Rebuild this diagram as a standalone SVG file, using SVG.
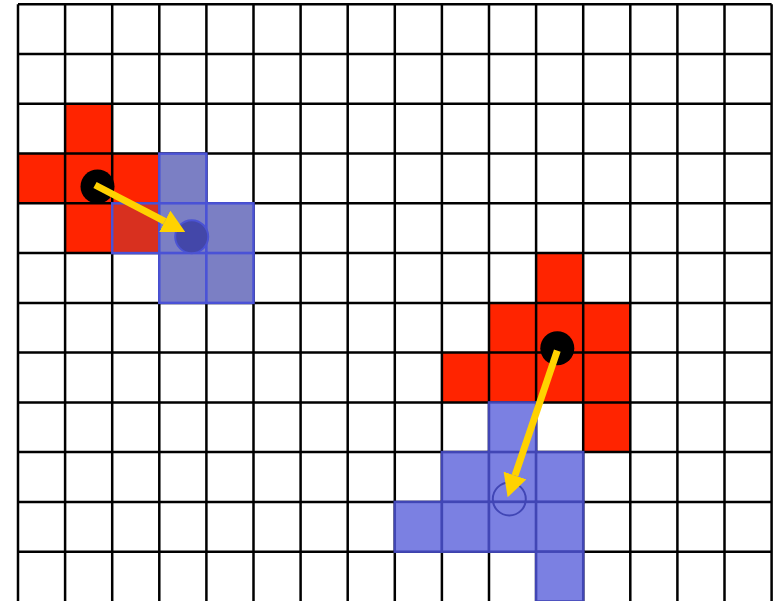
<svg xmlns="http://www.w3.org/2000/svg" width="781" height="601" viewBox="0 0 781 601">
<style>
.red{fill:#ff2400;}
.grid{fill:none;stroke:#000;stroke-width:2.5;}
.blueA{fill:#7b7fc4;stroke:#4a52d6;stroke-width:2.5;}
.blueB{fill:#7b80e2;stroke:#4146b5;stroke-width:2.5;}
.arrow{stroke:#ffd200;stroke-width:7;fill:none;marker-end:url(#head);}
</style>
<defs>
<marker id="head" markerUnits="userSpaceOnUse" viewBox="0 0 23 24" refX="0" refY="12" markerWidth="23" markerHeight="24" orient="auto">
<path d="M0,0 L23,12 L0,24 z" fill="#ffd200"/>
</marker>
</defs>
<rect x="0" y="0" width="781" height="601" fill="#fff"/>
<g id="red-shape-1">
<rect class="red" x="65.1" y="103.8" width="47.1" height="49.8"/>
<rect class="red" x="18" y="153.6" width="141.3" height="49.7"/>
<rect class="red" x="65.1" y="203.3" width="47.1" height="49.8"/>
</g>
<g id="red-shape-2">
<rect class="red" x="536.1" y="253.1" width="47.1" height="49.8"/>
<rect class="red" x="489" y="302.9" width="141.3" height="49.7"/>
<rect class="red" x="441.9" y="352.6" width="188.4" height="49.8"/>
<rect class="red" x="583.2" y="402.4" width="47.1" height="49.7"/>
</g>
<g id="grid">
<path class="grid" d="M18,4.3V601 M65.1,4.3V601 M112.2,4.3V601 M159.3,4.3V601 M206.4,4.3V601 M253.5,4.3V601 M300.6,4.3V601 M347.7,4.3V601 M394.8,4.3V601 M441.9,4.3V601 M489,4.3V601 M536.1,4.3V601 M583.2,4.3V601 M630.3,4.3V601 M677.4,4.3V601 M724.5,4.3V601 M771.6,4.3V601"/>
<path class="grid" d="M18,4.3H771.6 M18,54.1H771.6 M18,103.8H771.6 M18,153.6H771.6 M18,203.3H771.6 M18,253.1H771.6 M18,302.9H771.6 M18,352.6H771.6 M18,402.4H771.6 M18,452.1H771.6 M18,501.9H771.6 M18,551.7H771.6"/>
</g>
<g id="blue-shape-1">
<rect x="112.2" y="203.3" width="47.1" height="49.8" fill="#d8301f" stroke="#4a52d6" stroke-width="2.5"/>
<rect class="blueA" x="159.3" y="153.6" width="47.1" height="49.7"/>
<rect class="blueA" x="159.3" y="203.3" width="47.1" height="49.8"/>
<rect class="blueA" x="206.4" y="203.3" width="47.1" height="49.8"/>
<rect class="blueA" x="159.3" y="253.1" width="47.1" height="49.8"/>
<rect class="blueA" x="206.4" y="253.1" width="47.1" height="49.8"/>
</g>
<g id="blue-shape-2">
<rect class="blueB" x="489" y="402.4" width="47.1" height="49.7"/>
<rect class="blueB" x="441.9" y="452.1" width="47.1" height="49.8"/>
<rect class="blueB" x="489" y="452.1" width="47.1" height="49.8"/>
<rect class="blueB" x="536.1" y="452.1" width="47.1" height="49.8"/>
<rect class="blueB" x="394.8" y="501.9" width="47.1" height="49.8"/>
<rect class="blueB" x="441.9" y="501.9" width="47.1" height="49.8"/>
<rect class="blueB" x="489" y="501.9" width="47.1" height="49.8"/>
<rect class="blueB" x="536.1" y="501.9" width="47.1" height="49.8"/>
<rect class="blueB" x="536.1" y="551.7" width="47.1" height="49.8"/>
</g>
<g id="centroid-red-1"><circle cx="97.5" cy="186.5" r="17" fill="#000"/></g>
<g id="centroid-blue-1"><circle cx="191.7" cy="236.7" r="16.5" fill="#4347a9" stroke="#4b53d3" stroke-width="2"/></g>
<g id="centroid-red-2"><circle cx="557.3" cy="348.3" r="17" fill="#000"/></g>
<g id="centroid-blue-2"><circle cx="509.3" cy="499" r="16.5" fill="none" stroke="#4146b5" stroke-width="2"/></g>
<g id="connectors">
<line class="arrow" x1="95" y1="185" x2="164.8" y2="221.3"/>
<line class="arrow" x1="557.3" y1="350.7" x2="515" y2="475.5"/>
</g>
</svg>
